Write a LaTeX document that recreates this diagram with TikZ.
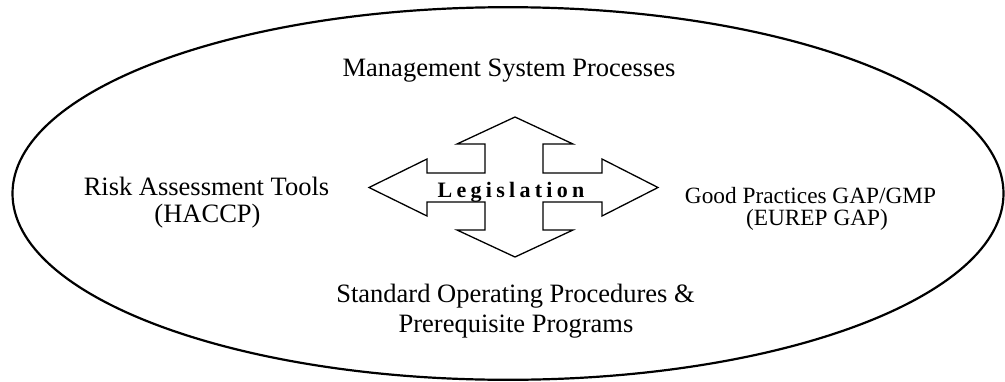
\documentclass[tikz,border=0pt]{standalone}
\usepackage{fontspec}
\setmainfont{Liberation Serif}
\tikzset{
  lbl/.style={anchor=base, inner sep=0pt, font=\fontsize{26.5}{30}\selectfont},
  lblsmall/.style={anchor=base, inner sep=0pt, font=\fontsize{23.3}{26}\selectfont},
  legis/.style={anchor=base, inner sep=0pt, font=\fontsize{22}{26}\selectfont\bfseries},
  outer/.style={draw=black, line width=2.2pt},
  cross/.style={draw=black, line width=1.3pt, line join=miter}
}
\begin{document}
\begin{tikzpicture}[x=1pt,y=-1pt]
\useasboundingbox (0,0) rectangle (1005,381);
\draw[outer] (508,193.5) ellipse [x radius=495.5, y radius=186.3];
\draw[cross] (515,117) -- (573,144) -- (543,144) -- (543,173) -- (602,173) -- (602,159)
  -- (658,187.5) -- (602,216) -- (602,202) -- (543,202) -- (543,230) -- (573,230)
  -- (515,257) -- (457,230) -- (485,230) -- (485,202) -- (427,202) -- (427,216)
  -- (369,187.5) -- (427,159) -- (427,173) -- (485,173) -- (485,144) -- (457,144) -- cycle;
\node[legis] (leg) at (511,197) {L\kern4.3pt e\kern4.3pt g\kern4.3pt i\kern4.3pt s\kern4.3pt l\kern4.3pt a\kern4.3pt t\kern4.3pt i\kern4.3pt o\kern4.3pt n};
\node[lbl] (msp) at (509,76) {Management System Processes};
\node[lbl] (rat) at (206.5,195) {Risk Assessment Tools};
\node[lbl] (hac) at (207.5,222) {(HACCP)};
\node[lblsmall] (gp) at (810.5,203) {Good Practices GAP/GMP};
\node[lblsmall] (eur) at (817,225) {(EUREP GAP)};
\node[lbl] (sop) at (515.5,302) {Standard Operating Procedures \&};
\node[lbl] (ppr) at (516,332) {Prerequisite Programs};
\end{tikzpicture}
\end{document}
